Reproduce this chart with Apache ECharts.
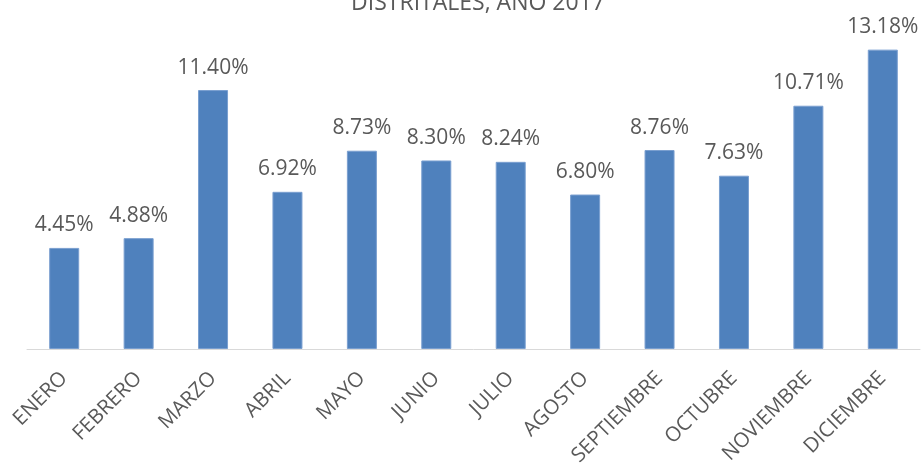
<!DOCTYPE html>
<html><head><meta charset="utf-8">
<script src="https://cdn.jsdelivr.net/npm/echarts@6/dist/echarts.min.js"></script>
<style>html,body{margin:0;padding:0;background:#fff}#c{width:923px;height:466px}</style>
</head><body><div id="c"></div>
<script>
var categories = ["ENERO","FEBRERO","MARZO","ABRIL","MAYO","JUNIO","JULIO","AGOSTO","SEPTIEMBRE","OCTUBRE","NOVIEMBRE","DICIEMBRE"];
var values = [4.45, 4.88, 11.40, 6.92, 8.73, 8.30, 8.24, 6.80, 8.76, 7.63, 10.71, 13.18];
var titleText = "DISTRITALES, AÑO 2017";

var chart = echarts.init(document.getElementById('c'), null, {renderer:'canvas'});
chart.setOption({
  animation:false,
  title:{text:titleText, left:473, top:-13, textAlign:'center',
    textStyle:{fontFamily:'Open Sans', fontSize:23, fontWeight:'normal', color:'#595959'}},
  grid:{left:27, right:3, top:31, height:318, containLabel:false, outerBoundsMode:'none'},
  xAxis:{type:'category', data:categories,
    axisLine:{lineStyle:{color:'#d9d9d9', width:1}},
    axisTick:{show:false},
    axisLabel:{rotate:45, interval:0, margin:26, color:'#595959', fontFamily:'Open Sans', fontSize:20.5}},
  yAxis:{type:'value', min:0, max:14, show:false, splitLine:{show:false}},
  series:[{type:'bar', data:values, barWidth:30,
    itemStyle:{color:'#4F81BD', borderColor:'#7a9fd0', borderWidth:1},
    label:{show:true, position:'top', distance:12, color:'#595959', fontFamily:'Open Sans', fontSize:21,
      formatter:function(p){return p.value.toFixed(2)+'%';}}}]
});
</script></body></html>
